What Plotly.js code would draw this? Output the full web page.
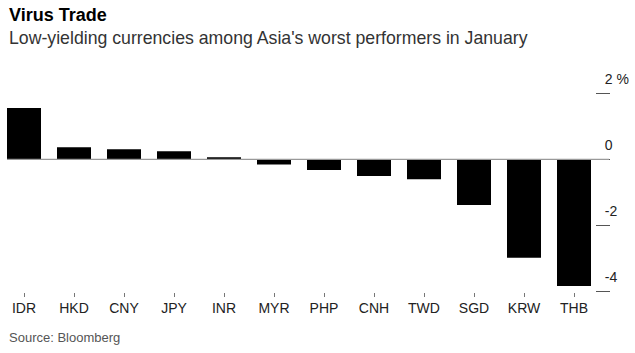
<!DOCTYPE html>
<html>
<head>
<meta charset="utf-8">
<script src="https://cdn.plot.ly/plotly-3.0.1.min.js"></script>
<style>html,body{margin:0;padding:0;background:#fff;}#chart{width:635px;height:353px;}</style>
</head>
<body>
<div id="chart"></div>
<script>
const currencies = ["IDR","HKD","CNY","JPY","INR","MYR","PHP","CNH","TWD","SGD","KRW","THB"];
const changePct = [1.56, 0.37, 0.31, 0.25, 0.07, -0.15, -0.32, -0.50, -0.60, -1.38, -2.98, -3.84];
const yTickVals = [2, 0, -2, -4];
const yTickText = ["2 %", "0", "-2", "-4"];
const titleText = "Virus Trade";
const subtitleText = "Low-yielding currencies among Asia's worst performers in January";
const sourceText = "Source: Bloomberg";

const L = 7, R = 595, T = 77, B = 292;
function px(x){ return (x - L) / (R - L); }
function py(y){ return (B - y) / (B - T); }

const font = "Liberation Sans, Arial, Helvetica, sans-serif";

const trace = {
  type: "bar",
  x: currencies.map((c, i) => i),
  y: changePct,
  marker: {color: "#000000", line: {width: 0}},
  hoverinfo: "skip"
};

const layout = {
  width: 635, height: 353,
  margin: {l: L, r: 635 - R, t: T, b: 353 - B, pad: 0},
  paper_bgcolor: "#fff", plot_bgcolor: "#fff",
  showlegend: false,
  bargap: 0.32,
  font: {family: font, color: "#222", size: 14},
  xaxis: {
    range: [-0.34, 11.42],
    tickmode: "array",
    tickvals: currencies.map((c, i) => i),
    ticktext: currencies,
    ticks: "outside", ticklen: 4, tickwidth: 1, tickcolor: "#777",
    ticklabelstandoff: -1,
    showgrid: false, zeroline: false, showline: false,
    tickfont: {family: font, size: 14, color: "#222"},
    fixedrange: true
  },
  yaxis: {
    side: "right",
    range: [-4.02, 2.5],
    tickmode: "array",
    tickvals: yTickVals,
    ticktext: yTickText,
    ticks: "outside", ticklen: 14, tickwidth: 1, tickcolor: "#555",
    ticklabelstandoff: -8,
    ticklabelshift: -14,
    showgrid: false, zeroline: false, showline: false,
    tickfont: {family: font, size: 14, color: "#222"},
    fixedrange: true
  },
  shapes: [{
    type: "line", xref: "paper", yref: "y",
    x0: 0, x1: px(609), y0: 0, y1: 0,
    line: {color: "#999", width: 1.2},
    layer: "above"
  }],
  annotations: [
    {text: "<b>" + titleText + "</b>", xref: "paper", yref: "paper", x: px(7), y: py(15),
     xanchor: "left", yanchor: "middle", showarrow: false,
     font: {family: font, size: 18, color: "#000"}},
    {text: subtitleText, xref: "paper", yref: "paper", x: px(7), y: py(38),
     xanchor: "left", yanchor: "middle", showarrow: false,
     font: {family: font, size: 17.7, color: "#333"}},
    {text: sourceText, xref: "paper", yref: "paper", x: px(7), y: py(337),
     xanchor: "left", yanchor: "middle", showarrow: false,
     font: {family: font, size: 13, color: "#555"}}
  ]
};

Plotly.newPlot("chart", [trace], layout, {staticPlot: true, displayModeBar: false});
</script>
</body>
</html>
